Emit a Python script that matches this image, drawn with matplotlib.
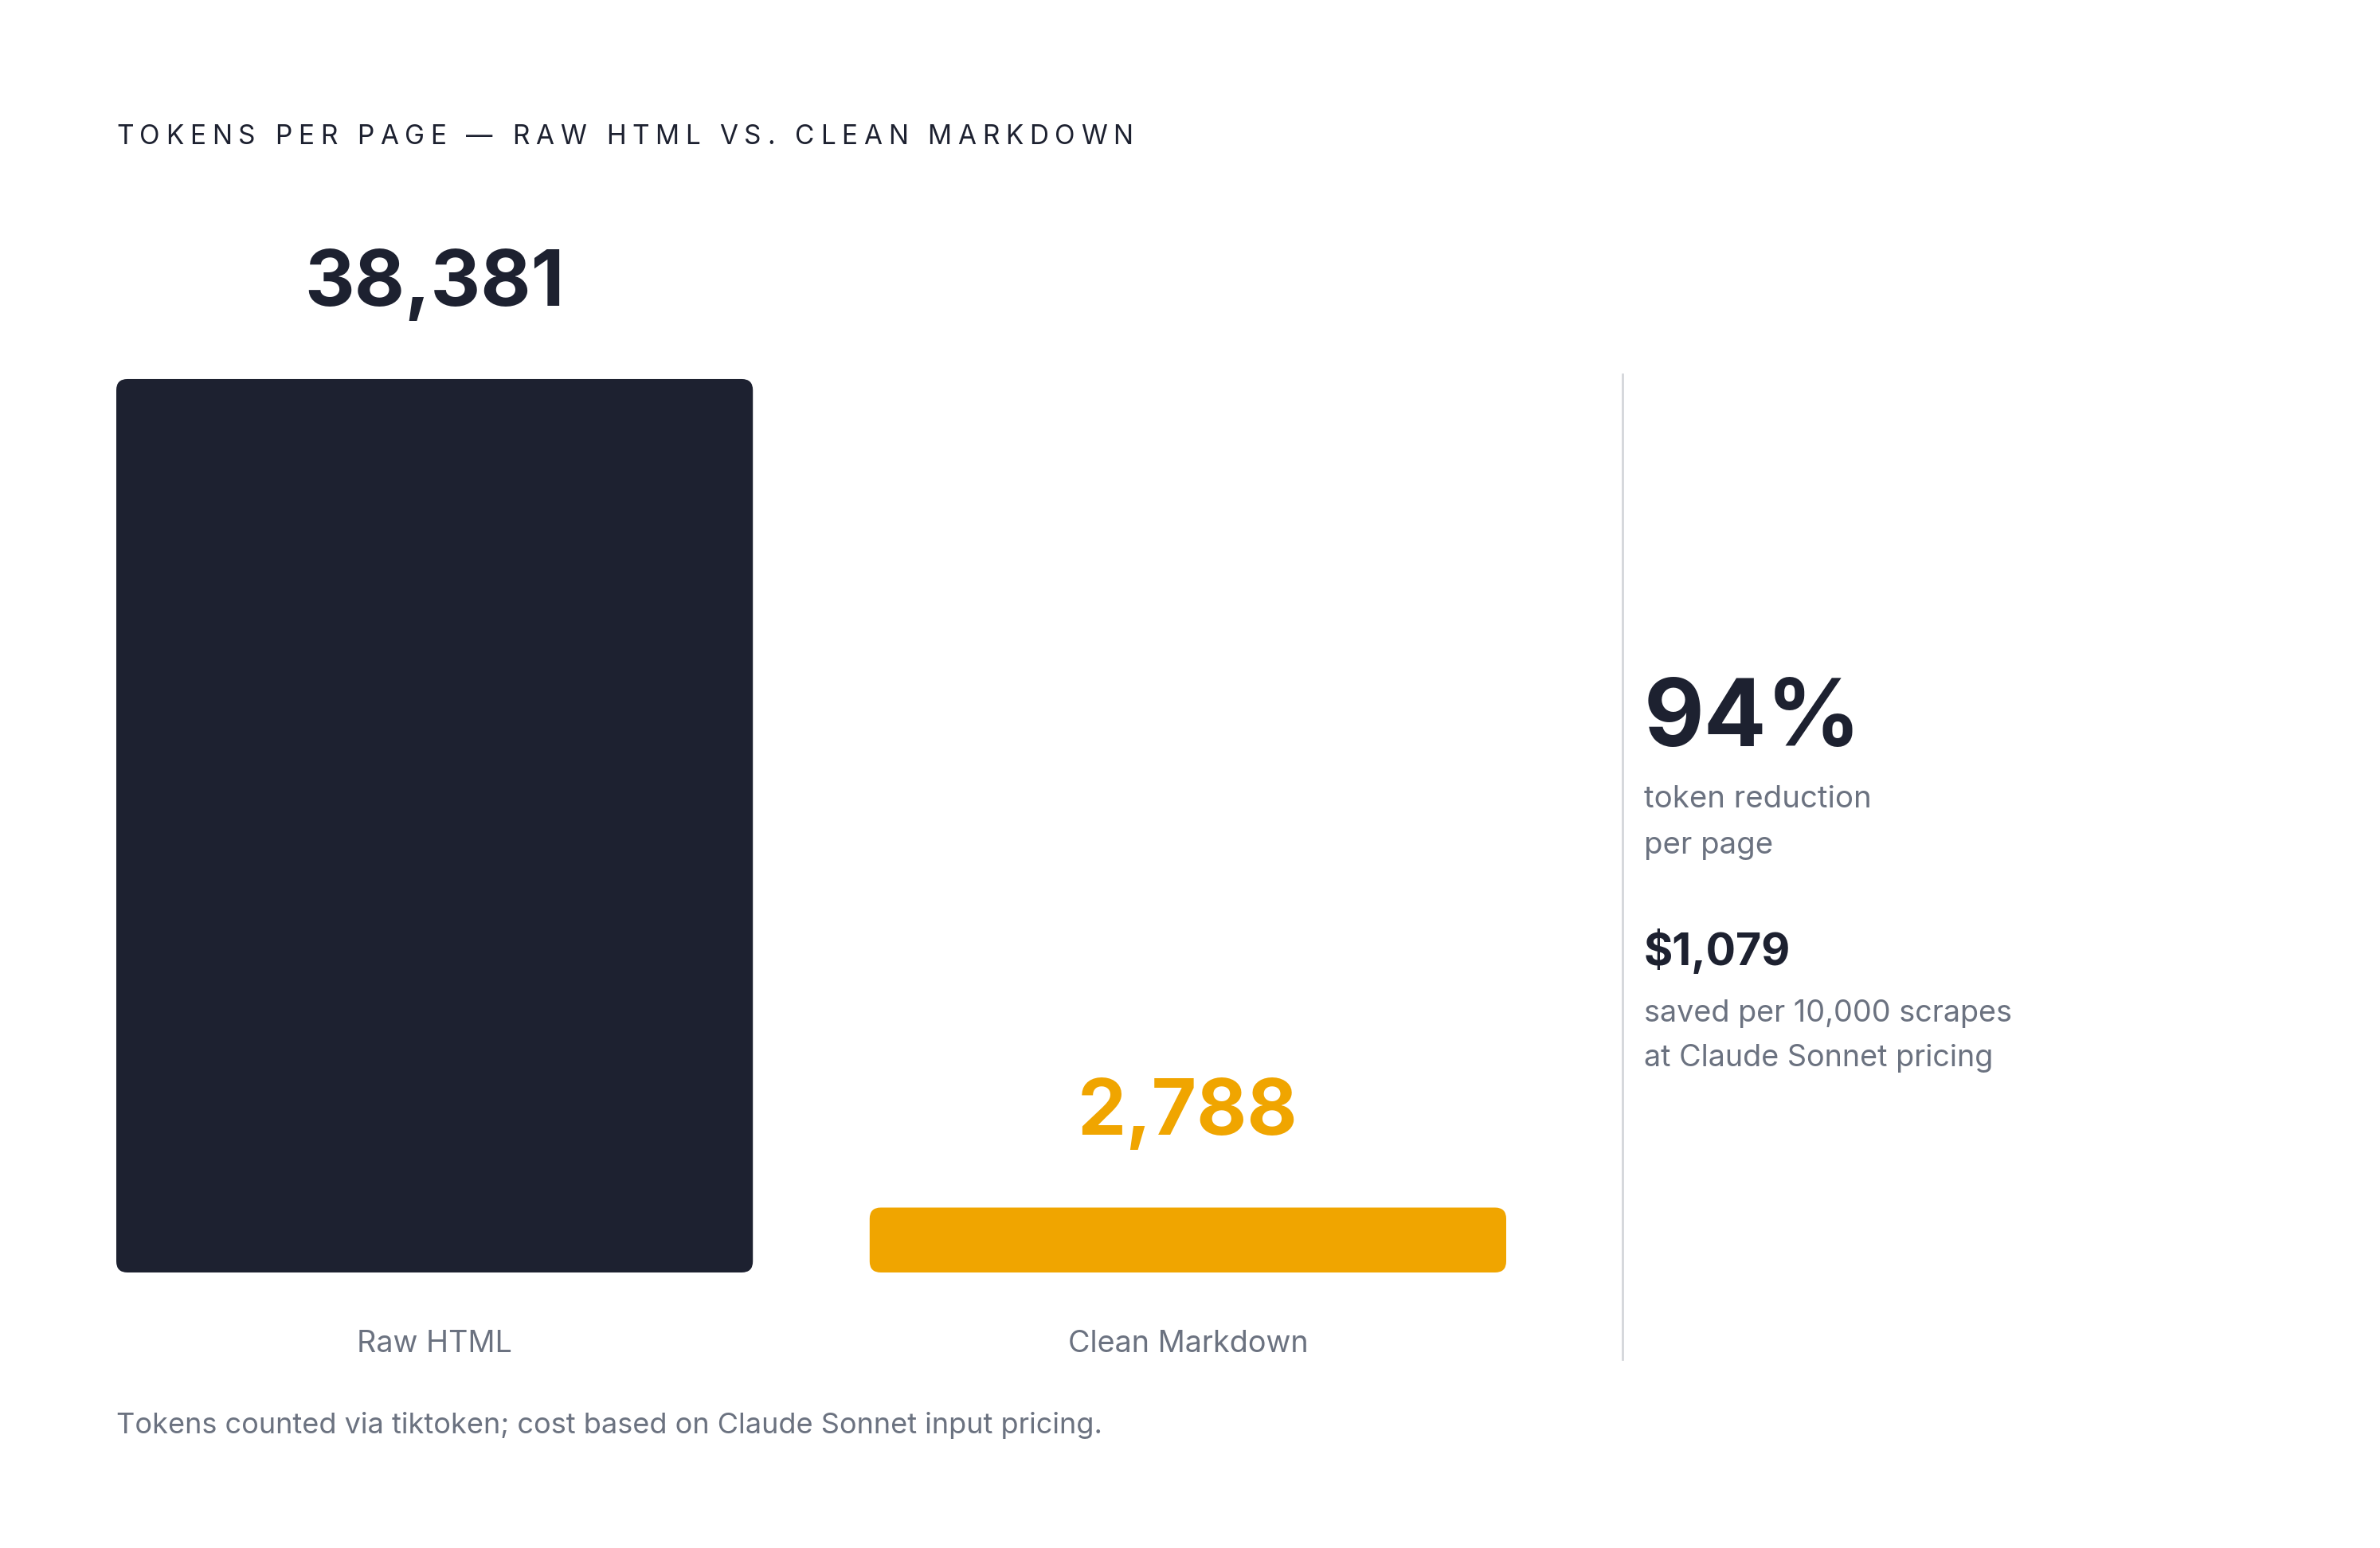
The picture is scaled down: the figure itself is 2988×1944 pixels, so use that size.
import matplotlib
matplotlib.use("Agg")
import matplotlib.pyplot as plt
from matplotlib.patches import FancyBboxPatch

categories = ["Raw HTML", "Clean Markdown"]
tokens = [38381, 2788]
value_labels = ["38,381", "2,788"]
reduction_pct = "94%"
reduction_text = ["token reduction", "per page"]
savings = "$1,079"
savings_text = ["saved per 10,000 scrapes", "at Claude Sonnet pricing"]
title = "TOKENS PER PAGE \u2014 RAW HTML VS. CLEAN MARKDOWN"
footnote = "Tokens counted via tiktoken; cost based on Claude Sonnet input pricing."

DARK = "#1d2130"
ORANGE = "#f0a500"
GRAY = "#6b7280"
LINE = "#d4d6da"

W, H = 2988, 1944
DPI = 200
plt.rcParams['font.family'] = ['Inter', 'DejaVu Sans']

fig = plt.figure(figsize=(W / DPI, H / DPI), dpi=DPI)
fig.patch.set_facecolor("white")


def fx(x):
    return x / W


def fy(y):
    return 1 - y / H


# bar area
ax = fig.add_axes([fx(146), fy(1598), 1745 / W, 1298 / H])
bar_w = 0.845
xmin, xmax = -bar_w / 2, 1 + bar_w / 2
ymax = 44400
ax.set_xlim(xmin, xmax)
ax.set_ylim(0, ymax)

bars = ax.bar(range(len(tokens)), tokens, width=bar_w, color=[DARK, ORANGE])

# swap the plain rectangles for rounded ones
x_per_px = (xmax - xmin) / 1745
y_per_px = ymax / 1298
r_px = 14
for b in bars:
    rb = FancyBboxPatch((b.get_x(), b.get_y()), b.get_width(), b.get_height(),
                        boxstyle=f"round,pad=0,rounding_size={r_px * x_per_px}",
                        mutation_aspect=y_per_px / x_per_px,
                        facecolor=b.get_facecolor(), edgecolor="none")
    b.remove()
    ax.add_patch(rb)

for i, (v, lab) in enumerate(zip(tokens, value_labels)):
    ax.annotate(lab, (i, v), xytext=(0, 33), textcoords="offset points",
                ha="center", va="baseline", fontsize=35, fontweight="bold",
                color=DARK if i == 0 else ORANGE)

ax.set_xticks(range(len(categories)))
ax.set_xticklabels(categories, fontsize=13.6, color=GRAY)
ax.tick_params(axis="x", length=0, pad=26)
ax.set_yticks([])
for s in ax.spines.values():
    s.set_visible(False)


# title with letter spacing
def spaced_text(x, y, s, tracking, **kw):
    renderer = fig.canvas.get_renderer()
    cur = x
    for ch in s:
        t = fig.text(fx(cur), fy(y), ch, va="baseline", ha="left", **kw)
        if ch == " ":
            probe = fig.text(0, 0, "a a", **kw)
            probe2 = fig.text(0, 0, "aa", **kw)
            w = (probe.get_window_extent(renderer).width
                 - probe2.get_window_extent(renderer).width)
            probe.remove()
            probe2.remove()
        else:
            w = t.get_window_extent(renderer).width
        cur += w + tracking


spaced_text(146, 181, title, 7.7, fontsize=12, color=DARK)

# divider
fig.add_artist(plt.Line2D([fx(2037), fx(2037)], [fy(470), fy(1707)],
                          color=LINE, linewidth=1.0))

# side stats
fig.text(fx(2064), fy(937), reduction_pct, fontsize=42, fontweight="bold",
         color=DARK, va="baseline")
fig.text(fx(2064), fy(1014), reduction_text[0], fontsize=13.8, color=GRAY, va="baseline")
fig.text(fx(2064), fy(1072), reduction_text[1], fontsize=13.8, color=GRAY, va="baseline")
fig.text(fx(2064), fy(1212), savings, fontsize=20, fontweight="bold",
         color=DARK, va="baseline")
fig.text(fx(2064), fy(1283), savings_text[0], fontsize=13.6, color=GRAY, va="baseline")
fig.text(fx(2064), fy(1339), savings_text[1], fontsize=13.6, color=GRAY, va="baseline")

fig.text(fx(146), fy(1800), footnote, fontsize=13, color=GRAY, va="baseline")

fig.savefig("out.png", dpi=DPI, facecolor="white")
